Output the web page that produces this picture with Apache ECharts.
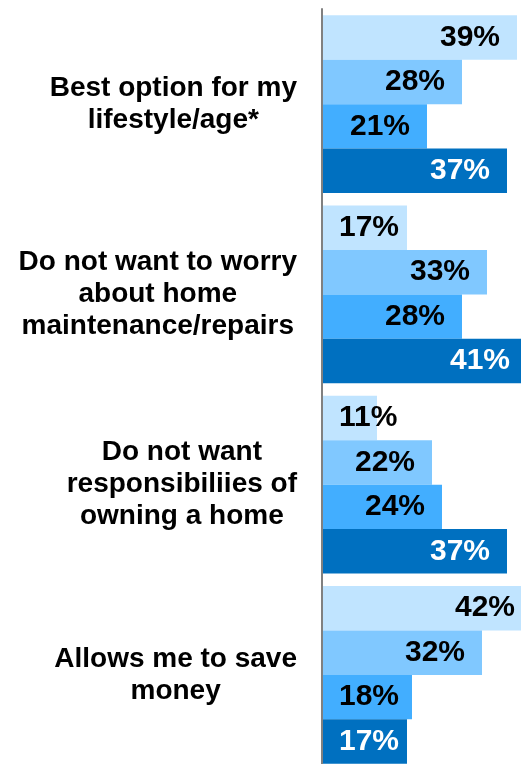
<!DOCTYPE html>
<html>
<head>
<meta charset="utf-8">
<script src="https://cdn.jsdelivr.net/npm/echarts@6/dist/echarts.min.js"></script>
<style>
html,body{margin:0;padding:0;background:#fff;}
#c{width:521px;height:764px;}
</style>
</head>
<body>
<div id="c"></div>
<script>
const categories = [
  'Best option for my\nlifestyle/age*',
  'Do not want to worry\nabout home\nmaintenance/repairs',
  'Do not want\nresponsibiliies of\nowning a home',
  'Allows me to save\nmoney'
];
const seriesNames = ['Series 1', 'Series 2', 'Series 3', 'Series 4'];
const series1 = [39, 17, 11, 42];
const series2 = [28, 33, 22, 32];
const series3 = [21, 28, 24, 18];
const series4 = [37, 41, 37, 17];

const colors = ['#C0E4FF', '#80C8FF', '#42AEFF', '#0070C0'];
const labelColors = ['#000', '#000', '#000', '#fff'];
const FONT = '"Liberation Sans", Arial, Helvetica, sans-serif';

function mkSeries(name, vals, idx) {
  return {
    name: name,
    type: 'bar',
    clip: false,
    barGap: '0%',
    barCategoryGap: '6.5%',
    itemStyle: { color: colors[idx] },
    data: vals.map(v => ({
      value: v,
      label: { position: v < 19 ? 'insideLeft' : 'insideRight' }
    })),
    label: {
      show: true,
      distance: 17,
      formatter: '{c}%',
      color: labelColors[idx],
      fontFamily: FONT,
      fontWeight: 'bold',
      fontSize: 30
    }
  };
}

const chart = echarts.init(document.getElementById('c'), null, { renderer: 'canvas' });
chart.setOption({
  animation: false,
  grid: { left: 322, top: 9, width: 250, height: 761, containLabel: false, outerBoundsMode: 'none' },
  xAxis: {
    type: 'value', min: 0, max: 50,
    show: false,
    splitLine: { show: false }
  },
  yAxis: {
    type: 'category',
    inverse: true,
    z: 5,
    data: categories,
    axisLine: { show: true, lineStyle: { color: '#808080', width: 2 } },
    axisTick: { show: false },
    axisLabel: {
      margin: 25,
      align: 'right',
      formatter: function (v) {
        return v.split('\n').map(s => '{a|' + s + '}').join('\n');
      },
      rich: {
        a: {
          fontFamily: FONT,
          fontWeight: 'bold',
          fontSize: 28,
          lineHeight: 32,
          color: '#000',
          align: 'center'
        }
      }
    }
  },
  series: [
    mkSeries(seriesNames[0], series1, 0),
    mkSeries(seriesNames[1], series2, 1),
    mkSeries(seriesNames[2], series3, 2),
    mkSeries(seriesNames[3], series4, 3)
  ]
});
</script>
</body>
</html>
